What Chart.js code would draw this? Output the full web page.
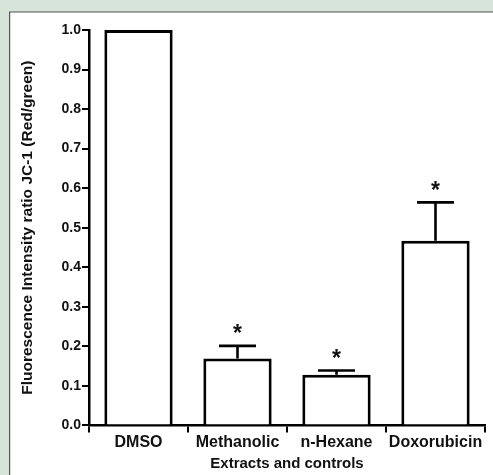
<!DOCTYPE html>
<html>
<head>
<meta charset="utf-8">
<script src="https://cdn.jsdelivr.net/npm/chart.js@4/dist/chart.umd.min.js"></script>
<style>
html,body{margin:0;padding:0;background:#d6e4da;}
#wrap{position:absolute;left:0;top:0;width:493px;height:475px;}
canvas{display:block;}
</style>
</head>
<body>
<div id="wrap"><canvas id="c" width="493" height="475"></canvas></div>
<script>
const categories = ["DMSO", "Methanolic", "n-Hexane", "Doxorubicin"];
const ratioValues = [1.0, 0.169, 0.128, 0.467];
const errorValues = [0, 0.032, 0.011, 0.097];
const significant = [false, true, true, true];
const yTicks = [0.0, 0.1, 0.2, 0.3, 0.4, 0.5, 0.6, 0.7, 0.8, 0.9, 1.0];

const FONT = "'Liberation Sans', Arial, sans-serif";

const panelPlugin = {
  id: 'panel',
  beforeDraw(chart) {
    const ctx = chart.ctx;
    ctx.save();
    ctx.fillStyle = '#d6e4da';
    ctx.fillRect(0, 0, chart.width, chart.height);
    ctx.fillStyle = '#ffffff';
    ctx.fillRect(10, 12, chart.width - 10, chart.height - 12);
    ctx.strokeStyle = '#555555';
    ctx.lineWidth = 1.2;
    ctx.beginPath();
    ctx.moveTo(9.6, chart.height);
    ctx.lineTo(9.6, 12);
    ctx.lineTo(chart.width, 12);
    ctx.stroke();
    ctx.restore();
  }
};

const errorPlugin = {
  id: 'errs',
  afterDatasetsDraw(chart) {
    const ctx = chart.ctx;
    const meta = chart.getDatasetMeta(0);
    const y = chart.scales.y;
    ctx.save();
    ctx.strokeStyle = '#000';
    ctx.lineWidth = 2.6;
    ctx.lineCap = 'butt';
    meta.data.forEach((bar, i) => {
      const e = errorValues[i];
      const v = ratioValues[i];
      const top = y.getPixelForValue(v + e);
      const base = y.getPixelForValue(v);
      if (e > 0) {
        ctx.beginPath();
        ctx.moveTo(bar.x, base);
        ctx.lineTo(bar.x, top);
        ctx.moveTo(bar.x - 18.5, top);
        ctx.lineTo(bar.x + 18.5, top);
        ctx.stroke();
      }
      if (significant[i]) {
        ctx.fillStyle = '#111';
        ctx.font = 'bold 23px ' + FONT;
        ctx.textAlign = 'center';
        ctx.textBaseline = 'middle';
        ctx.fillText('*', bar.x, top - 11);
      }
    });
    ctx.restore();
  }
};

new Chart(document.getElementById('c'), {
  type: 'bar',
  data: {
    labels: categories,
    datasets: [{
      data: ratioValues,
      backgroundColor: '#ffffff',
      borderColor: '#000000',
      borderWidth: 3,
      borderSkipped: 'bottom',
      barPercentage: 0.69,
      categoryPercentage: 1.0
    }]
  },
  options: {
    responsive: false,
    animation: false,
    devicePixelRatio: 1,
    layout: { padding: { left: 0, right: 8, top: 30, bottom: 2 } },
    plugins: { legend: { display: false }, tooltip: { enabled: false } },
    scales: {
      x: {
        grid: { display: true, drawOnChartArea: false, drawTicks: true, tickLength: 7, color: '#000', lineWidth: 2 },
        border: { display: true, color: '#000', width: 2.5 },
        ticks: { color: '#111', maxRotation: 0, minRotation: 0, autoSkip: false, font: { family: FONT, size: 16, weight: 'bold', lineHeight: 1.1 }, padding: 1 },
        title: { display: true, text: 'Extracts and controls', color: '#111', font: { family: FONT, size: 15, weight: 'bold' }, padding: { top: 3, bottom: 0 } }
      },
      y: {
        min: 0, max: 1.0,
        afterBuildTicks(scale) { scale.ticks = yTicks.map(v => ({ value: v })); },
        afterFit(scale) { scale.width = 89; },
        grid: { display: true, drawOnChartArea: false, drawTicks: true, tickLength: 7, color: '#000', lineWidth: 2 },
        border: { display: true, color: '#000', width: 2.5 },
        ticks: { color: '#111', font: { family: FONT, size: 14, weight: 'bold' }, padding: 1, callback: (v) => Number(v).toFixed(1) },
        title: { display: true, text: 'Fluorescence Intensity ratio JC-1 (Red/green)', color: '#111', font: { family: FONT, size: 15.5, weight: 'bold' }, padding: { top: 18, bottom: 0 } }
      }
    }
  },
  plugins: [panelPlugin, errorPlugin]
});
</script>
</body>
</html>
